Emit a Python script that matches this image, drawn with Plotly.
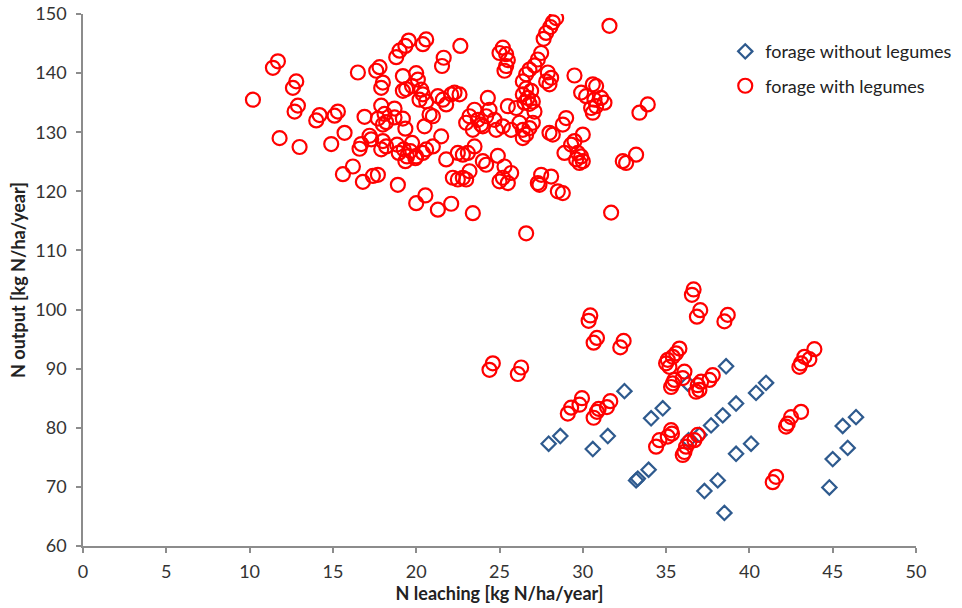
import plotly.graph_objects as go

# forage without legumes (blue diamonds)
x_without = [27.95, 28.65, 30.6, 31.5, 32.5, 34.1, 34.8, 33.2, 33.3, 33.95, 38.6, 36.3,
             41.0, 40.4, 39.2, 38.4, 37.7, 37.0, 36.35, 40.1, 39.2, 38.1, 37.3, 38.5,
             46.4, 45.6, 45.9, 45.0, 44.8]
y_without = [77.3, 78.6, 76.4, 78.6, 86.2, 81.6, 83.3, 71.1, 71.4, 72.9, 90.4, 87.5,
             87.6, 85.9, 84.1, 82.1, 80.4, 78.8, 77.9, 77.3, 75.6, 71.1, 69.3, 65.6,
             81.8, 80.3, 76.6, 74.7, 69.9]

# forage with legumes (red circles)
x_with = [
    10.2, 11.4, 11.7, 11.8, 12.6, 12.8, 12.7, 12.9, 13.0, 14.0, 14.2, 14.9, 15.1, 15.3, 15.7,
    15.6, 16.2, 16.5, 16.9, 16.8, 17.4, 17.7, 16.6, 16.7, 17.2, 17.3, 17.6, 17.8, 17.9, 18.0,
    17.9, 18.1, 18.2, 17.7, 18.7, 18.7, 18.0, 18.2, 17.9, 18.9, 18.8, 19.0, 19.35, 19.55, 19.2,
    20.0, 20.1, 19.75, 19.2, 19.4, 19.2, 19.35, 20.0, 20.55, 18.85, 18.95, 19.25, 19.45, 19.75,
    19.65, 19.95, 19.35, 20.0, 20.4, 20.6, 20.3, 20.4, 20.2, 20.6, 20.5, 20.8, 18.0,
    20.6, 20.4, 21.65, 21.55, 22.65, 21.3, 21.8, 22.1, 22.6, 21.0, 22.3, 21.6, 21.8,
    22.5, 22.8, 23.1, 23.5, 22.2, 22.5, 22.8, 23.2, 23.0, 21.0, 21.5, 22.1, 21.3,
    23.4, 23.0, 23.2, 23.5, 23.7, 23.9, 24.2, 24.4, 24.7, 23.4, 24.3, 24.0, 24.0,
    24.2, 24.9, 25.3, 25.2, 25.0, 25.5, 25.7, 25.2, 25.0, 25.4, 25.4, 25.3, 25.5, 25.2,
    25.5, 26.0, 26.2, 26.4, 26.6, 26.8, 27.0, 27.1, 26.4, 25.7, 24.8, 26.6, 27.5, 28.1,
    27.3, 27.4, 28.5, 28.8, 28.4, 28.2, 28.05, 27.8, 27.65, 31.6, 27.5, 27.3, 27.1,
    26.8, 26.6, 26.4, 27.9, 28.1, 27.8, 28.0, 26.6, 26.4, 26.7, 26.9, 26.5, 26.8, 27.0,
    29.5, 29.9, 30.6, 30.8, 30.2, 30.7, 31.1, 31.3, 30.5, 30.6, 30.8, 33.4, 33.9,
    29.0, 28.8, 28.0, 28.2, 30.0, 29.5, 29.3, 28.9, 29.7, 29.9, 29.6, 30.0, 29.8,
    32.4, 32.6, 33.2, 31.7,
    24.4, 24.6, 26.1, 26.3, 30.35, 30.45, 30.65, 30.85, 32.25, 32.45, 29.1, 29.3, 29.8, 29.95,
    30.65, 30.85, 30.95, 31.45, 31.65, 34.4, 34.6, 35.1, 35.3, 35.8, 35.6, 35.4, 35.1, 35.0,
    35.2, 35.5, 35.3, 35.4, 36.1, 36.0, 37.8, 37.6, 37.1, 36.9, 37.0, 36.8, 36.9, 36.7,
    36.4, 36.2, 36.1, 36.0, 36.55, 36.65, 36.85, 37.05, 38.5, 38.7, 43.1, 43.0, 43.3,
    43.6, 43.9, 42.3, 42.2, 42.5, 43.1, 41.4, 41.6, 35.35,
]
y_with = [
    135.5, 140.9, 142.0, 129.0, 137.5, 138.6, 133.5, 134.5, 127.5, 132.0, 132.9, 128.0, 132.8, 133.5, 129.9,
    122.9, 124.2, 140.1, 132.6, 121.6, 122.6, 122.8, 127.2, 128.0, 129.4, 128.8, 140.4, 141.0, 137.5, 138.4,
    134.5, 133.1, 131.7, 132.3, 134.0, 132.5, 128.5, 127.6, 127.1, 121.1, 142.7, 143.8, 144.6, 145.5, 139.5,
    140.0, 138.9, 137.8, 137.0, 137.3, 132.3, 130.6, 118.0, 119.3, 127.9, 126.5, 127.1, 125.9, 128.2,
    126.8, 125.6, 125.1, 125.9, 126.5, 127.1, 137.2, 136.4, 135.5, 135.2, 131.0, 133.0, 131.3,
    145.7, 144.9, 142.6, 141.2, 144.6, 136.1, 134.7, 136.4, 136.4, 132.7, 136.7, 135.5, 125.4,
    126.5, 126.2, 126.5, 127.6, 122.3, 122.0, 122.3, 123.4, 122.0, 127.6, 129.3, 117.9, 116.9,
    116.3, 131.6, 132.7, 133.8, 132.1, 131.3, 132.7, 133.8, 132.1, 130.4, 135.8, 131.0, 125.1,
    124.5, 126.0, 124.2, 122.3, 121.7, 121.4, 123.1, 144.3, 143.4, 143.2, 141.2, 140.4, 142.2, 131.0,
    134.4, 134.1, 131.6, 130.4, 129.6, 130.7, 131.6, 133.5, 129.0, 130.4, 130.4, 112.9, 122.8, 122.5,
    121.4, 121.1, 120.0, 119.7, 149.3, 148.6, 147.8, 146.8, 145.8, 148.0, 143.4, 142.3, 141.3,
    140.6, 139.8, 138.6, 140.1, 139.2, 138.6, 138.1, 137.4, 136.4, 135.8, 137.0, 135.0, 134.8, 135.2,
    139.6, 136.7, 138.1, 137.8, 136.1, 135.5, 135.8, 135.0, 134.1, 133.3, 134.4, 133.3, 134.7,
    132.4, 131.3, 129.9, 129.6, 129.6, 128.5, 127.9, 126.5, 126.5, 125.9, 125.4, 125.1, 124.8,
    125.1, 124.8, 126.2, 116.4,
    89.8, 90.9, 89.1, 90.2, 98.1, 99.0, 94.4, 95.2, 93.6, 94.7, 82.4, 83.4, 83.9, 85.0,
    81.7, 82.7, 83.2, 83.5, 84.5, 76.8, 77.9, 78.5, 79.6, 93.4, 92.6, 92.0, 91.5, 90.9,
    90.3, 88.1, 86.9, 87.5, 89.5, 88.4, 88.9, 88.1, 87.8, 87.2, 86.4, 86.1, 78.8, 77.9,
    77.6, 76.8, 75.9, 75.4, 102.5, 103.4, 98.8, 99.9, 98.0, 99.1, 90.9, 90.3, 92.0,
    91.6, 93.3, 80.7, 80.2, 81.8, 82.7, 70.8, 71.7, 79.0,
]

x_ticks = [0, 5, 10, 15, 20, 25, 30, 35, 40, 45, 50]
y_ticks = [60, 70, 80, 90, 100, 110, 120, 130, 140, 150]

FONT = "Lato"

fig = go.Figure()
fig.add_trace(go.Scatter(
    x=x_without, y=y_without, mode="markers", name="forage without legumes",
    legendgroup="a",
    marker=dict(symbol="diamond-open", size=11, color="#2E5A8E", line=dict(width=2.2, color="#2E5A8E")),
))
fig.add_trace(go.Scatter(
    x=x_with, y=y_with, mode="markers", name="forage with legumes",
    legendgroup="b",
    marker=dict(symbol="circle-open", size=14, color="#FF0000", line=dict(width=2.2, color="#FF0000")),
))

axis_common = dict(
    showgrid=False, zeroline=False, showline=True, linecolor="#8C8C8C", linewidth=1.5,
    ticks="outside", ticklen=5, tickcolor="#8C8C8C", tickwidth=1.5,
    tickfont=dict(family=FONT, size=18, color="#333333"),
)

fig.update_layout(
    width=962, height=608,
    margin=dict(l=83, r=46, t=14, b=62, autoexpand=False),
    paper_bgcolor="white", plot_bgcolor="white",
    showlegend=True,
    legend=dict(
        x=0.771, y=0.964, xanchor="left", yanchor="top",
        font=dict(family=FONT, size=18, color="#222222"),
        traceorder="grouped", tracegroupgap=8,
        bgcolor="rgba(0,0,0,0)", itemwidth=30,
    ),
    xaxis=dict(
        range=[0, 50], tickvals=x_ticks, ticklabelstandoff=4,
        title=dict(text="<b>N leaching [kg N/ha/year]</b>", font=dict(family=FONT, size=18, color="#222222"), standoff=2),
        **axis_common,
    ),
    yaxis=dict(
        range=[60, 150], tickvals=y_ticks, ticklabelstandoff=6,
        title=dict(text="<b>N output [kg N/ha/year]</b>", font=dict(family=FONT, size=18, color="#222222"), standoff=5),
        **axis_common,
    ),
)

fig.write_html("out.html")
